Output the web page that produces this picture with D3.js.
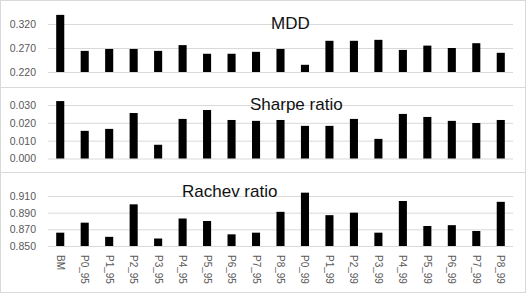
<!DOCTYPE html>
<html>
<head>
<meta charset="utf-8">
<script src="https://cdn.jsdelivr.net/npm/d3@7"></script>
<style>
  body { margin: 0; background: #fff; }
  svg { display: block; font-family: "Liberation Sans", Arial, sans-serif; }
</style>
</head>
<body>
<svg width="529" height="294"></svg>
<script>
const categories = ["BM", "P0_95", "P1_95", "P2_95", "P3_95", "P4_95", "P5_95", "P6_95", "P7_95", "P8_95",
  "P0_99", "P1_99", "P2_99", "P3_99", "P4_99", "P5_99", "P6_99", "P7_99", "P8_99"]

const mdd = [0.339, 0.264, 0.268, 0.268, 0.264, 0.276, 0.258, 0.258, 0.262, 0.268,
  0.235, 0.285, 0.285, 0.287, 0.266, 0.275, 0.270, 0.280, 0.260]
const sharpe = [0.0322, 0.0155, 0.0166, 0.0255, 0.0077, 0.0222, 0.0272, 0.0216, 0.0211, 0.0216,
  0.0183, 0.0183, 0.0222, 0.0110, 0.0250, 0.0233, 0.0211, 0.0199, 0.0216]
const rachev = [0.866, 0.878, 0.861, 0.900, 0.859, 0.883, 0.880, 0.864, 0.866, 0.891,
  0.914, 0.887, 0.890, 0.866, 0.904, 0.874, 0.875, 0.868, 0.903]

const mddTicks = [0.220, 0.270, 0.320]
const sharpeTicks = [0.000, 0.010, 0.020, 0.030]
const rachevTicks = [0.850, 0.870, 0.890, 0.910]

const svg = d3.select("svg")
const left = 48, right = 513
const x = d3.scaleBand()
  .domain(categories)
  .range([left, right])
  .paddingInner(0.67)
  .paddingOuter(0.335)

// panel layout: box top/bottom, axis baseline and top tick pixel
const panels = [
  { title: "MDD", values: mdd, ticks: mddTicks, box: [0.5, 87.5], y0: 72, y1: 24, tx: 271, ty: 29 },
  { title: "Sharpe ratio", values: sharpe, ticks: sharpeTicks, box: [87.5, 172.5], y0: 158.5, y1: 105, tx: 250, ty: 110 },
  { title: "Rachev ratio", values: rachev, ticks: rachevTicks, box: [172.5, 292.5], y0: 246, y1: 196, tx: 182, ty: 197, xLabels: true }
]

panels.forEach(p => {
  const g = svg.append("g")
  g.append("rect")
    .attr("x", 0.5).attr("y", p.box[0])
    .attr("width", 525).attr("height", p.box[1] - p.box[0])
    .attr("fill", "none").attr("stroke", "#d9d9d9")

  const lo = p.ticks[0], hi = p.ticks[p.ticks.length - 1]
  const y = d3.scaleLinear().domain([lo, hi]).range([p.y0, p.y1])

  const axis = g.append("g")
    .attr("transform", `translate(${left},0)`)
    .call(d3.axisLeft(y).tickValues(p.ticks).tickFormat(d3.format(".3f")).tickSize(-(right - left)).tickPadding(12))
  axis.select(".domain").remove()
  axis.selectAll(".tick line").attr("stroke", "#d9d9d9")
  axis.selectAll(".tick text").attr("fill", "#595959").style("font-size", "10.5px")

  g.selectAll(".bar")
    .data(p.values)
    .enter().append("rect")
    .attr("class", "bar")
    .attr("x", (d, i) => x(categories[i]))
    .attr("width", x.bandwidth())
    .attr("y", d => y(d))
    .attr("height", d => y(lo) - y(d))
    .attr("fill", "#000")

  g.append("text")
    .attr("x", p.tx).attr("y", p.ty)
    .attr("fill", "#111")
    .style("font-size", "17px")
    .text(p.title)

  if (p.xLabels) {
    g.selectAll(".xl")
      .data(categories)
      .enter().append("text")
      .attr("class", "xl")
      .attr("transform", d => `translate(${x(d) + x.bandwidth() / 2},${p.y0 + 9}) rotate(90)`)
      .attr("dy", "0.35em")
      .attr("fill", "#595959")
      .style("font-size", "10px")
      .text(d => d)
  }
})
</script>
</body>
</html>
